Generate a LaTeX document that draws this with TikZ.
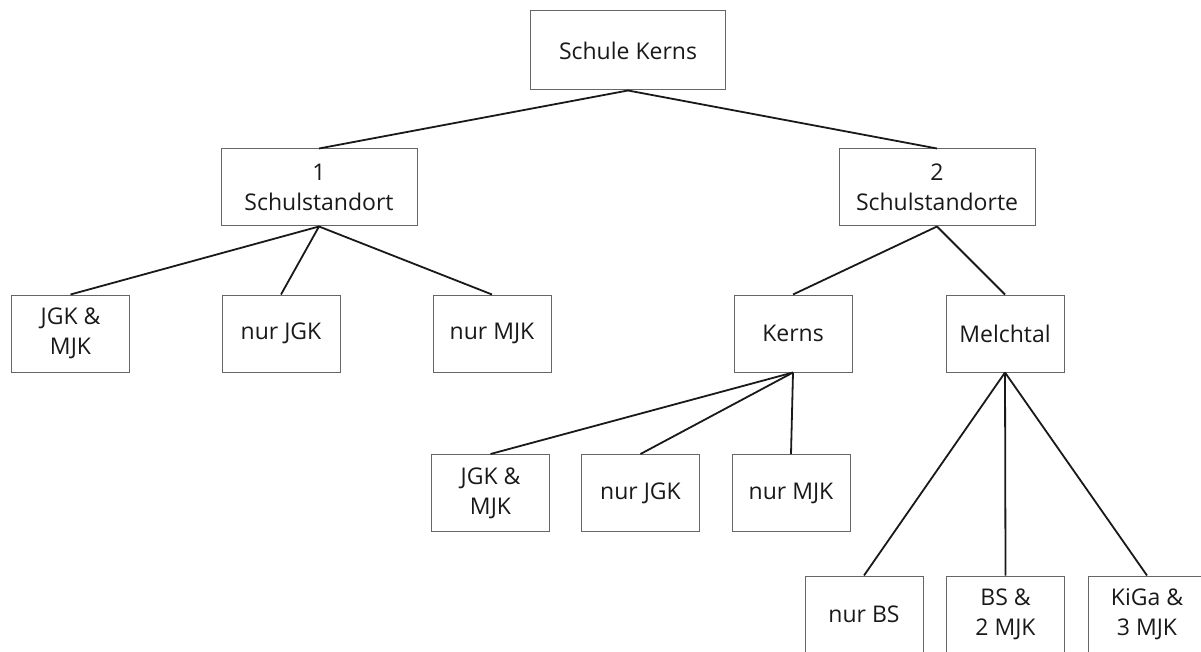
\documentclass[tikz,border=0pt]{standalone}
\usepackage{fontspec}
\setmainfont{Open Sans}

\begin{document}
\begin{tikzpicture}[x=1pt,y=-1pt,
        box/.style={draw=black!60,line width=1pt,minimum width=118pt,minimum height=77pt,
            inner sep=0pt,align=center,text=black!90,font=\fontsize{23}{30}\selectfont},
        link/.style={draw=black!90,line width=1.8pt}]
            \useasboundingbox (0,0) rectangle (1201,652);
            \node[box,minimum width=195pt,minimum height=79pt] (sk) at (628,50.5) {Schule Kerns};
            \node[box,minimum width=196pt] (o1) at (319,187.5) {1\\Schulstandort};
            \node[box,minimum width=196pt] (o2) at (937,187.5) {2\\Schulstandorte};
            \node[box] (a1) at (70.5,333.5) {JGK \&\\MJK};
            \node[box] (a2) at (281,333.5) {nur JGK};
            \node[box] (a3) at (492,333.5) {nur MJK};
            \node[box] (kerns) at (793,333.5) {Kerns};
            \node[box] (melch) at (1005,333.5) {Melchtal};
            \node[box] (k1) at (490.5,493) {JGK \&\\MJK};
            \node[box] (k2) at (640.5,493) {nur JGK};
            \node[box] (k3) at (791,493) {nur MJK};
            \node[box] (m1) at (864,614.5) {nur BS};
            \node[box] (m2) at (1005.5,614.5) {BS \&\\2 MJK};
            \node[box] (m3) at (1147,614.5) {KiGa \&\\3 MJK};
            \foreach \p/\c in {sk/o1,sk/o2,o1/a1,o1/a2,o1/a3,o2/kerns,o2/melch,
                    kerns/k1,kerns/k2,kerns/k3,melch/m1,melch/m2,melch/m3}
                \draw[link] (\p.south) -- (\c.north);
        \end{tikzpicture}
\end{document}
